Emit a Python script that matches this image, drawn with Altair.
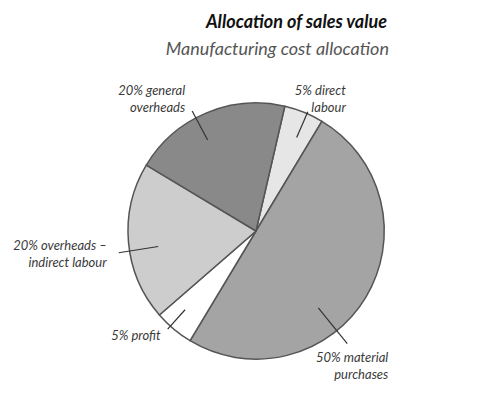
import math
import altair as alt
import pandas as pd

# ---- data ----
keys = ["direct", "material", "profit", "indirect", "general"]
values = [5, 50, 5, 20, 20]
labels = ["5% direct\nlabour", "50% material\npurchases", "5% profit",
          "20% overheads –\nindirect labour", "20% general\noverheads"]
fills = ["#e6e6e6", "#a4a4a4", "#ffffff", "#cdcdcd", "#898989"]
title_text = "Allocation of sales value"
subtitle_text = "Manufacturing cost allocation"

# ---- layout ----
W, H = 483, 389
CX, CY, R = 248, 223, 128
START = math.radians(13)
lead_offset_deg = [1.5, 20, 2, -4, -5]
lead_in = [102, 99, 106, 99, 103]
lead_out = [130, 145, 132, 139, 136]
label_dx = [38, 41, -7, -12, -7]
label_dy = [-27, 8, 1, -13, -26]
FONT = "Lato, 'Open Sans', sans-serif"

total = sum(values)
rows = []
cum = 0
for i, (k, v, lab) in enumerate(zip(keys, values, labels)):
    mid = START + 2 * math.pi * (cum + v / 2) / total + math.radians(lead_offset_deg[i])
    cum += v
    x1 = CX + lead_in[i] * math.sin(mid)
    y1 = CY - lead_in[i] * math.cos(mid)
    x2 = CX + lead_out[i] * math.sin(mid)
    y2 = CY - lead_out[i] * math.cos(mid)
    rows.append({"key": k, "value": v, "idx": i, "label": lab,
                 "x1": x1, "y1": y1, "x2": x2, "y2": y2,
                 "tx": x2 + label_dx[i], "ty": y2 + label_dy[i]})
df = pd.DataFrame(rows)

arcs = alt.Chart(df).mark_arc(stroke="#555555", strokeWidth=1.5, radius=R).encode(
    theta=alt.Theta("value:Q", stack=True,
                    scale=alt.Scale(range=[START, START + 2 * math.pi])),
    color=alt.Color("key:N", scale=alt.Scale(domain=keys, range=fills), legend=None),
    order=alt.Order("idx:Q"),
    x=alt.value(CX),
    y=alt.value(CY),
)

leaders = alt.Chart(df).mark_rule(color="#333333", strokeWidth=1.2).encode(
    x=alt.X("x1:Q", scale=None), y=alt.Y("y1:Q", scale=None),
    x2="x2:Q", y2="y2:Q",
)

texts = alt.Chart(df).mark_text(
    align="right", baseline="top", lineBreak="\n", lineHeight=17,
    font=FONT, fontStyle="italic", fontSize=13, color="#3a3a3a",
).encode(
    x=alt.X("tx:Q", scale=None), y=alt.Y("ty:Q", scale=None), text="label:N",
)

tdf = pd.DataFrame({"t": [title_text], "s": [subtitle_text]})
title = alt.Chart(tdf).mark_text(
    align="right", baseline="alphabetic", font=FONT, fontStyle="italic",
    fontWeight="bold", fontSize=18, color="#111111",
).encode(x=alt.value(379), y=alt.value(20), text="t:N")
subtitle = alt.Chart(tdf).mark_text(
    align="right", baseline="alphabetic", font=FONT, fontStyle="italic",
    fontSize=18, color="#555555",
).encode(x=alt.value(381), y=alt.value(47), text="s:N")

chart = alt.layer(arcs, leaders, texts, title, subtitle).properties(
    width=W, height=H, autosize="none", padding=0, background="white",
).configure_view(stroke=None)

chart.save("out.html", embed_options={"renderer": "svg", "actions": False})
